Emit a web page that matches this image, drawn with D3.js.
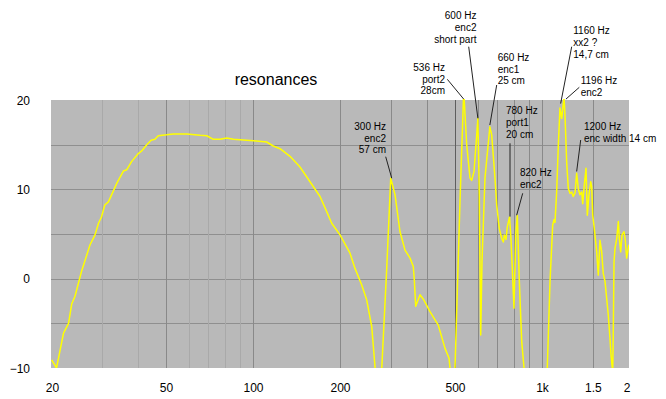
<!DOCTYPE html>
<html>
<head>
<meta charset="utf-8">
<script src="https://cdn.jsdelivr.net/npm/d3@7"></script>
<style>
  html, body { margin: 0; padding: 0; background: #fff; }
  svg { display: block; }
  text { font-family: "Liberation Sans", Arial, sans-serif; fill: #000; }
</style>
</head>
<body>
<svg id="chart" width="666" height="399"></svg>
<script>
// ---------- data ----------
const title = "resonances";
const freq = [20.1, 20.9, 22.1, 23.0, 23.6, 24.2, 25.5, 27.3, 28.4, 29.2, 29.9, 30.7, 31.6, 33.8, 35.6, 36.6, 38.0, 40.1, 41.2, 42.9, 44.4, 45.8, 47.0, 50.3, 53.0, 59.0, 65.6, 69.2, 72.9, 76.9, 81.1, 85.5, 95.1, 100.3, 111.5, 117.5, 124, 134.3, 145.4, 157.5, 170.6, 179.9, 187.2, 200, 216.6, 225.4, 237.8, 247.5, 257.6, 264.4, 267.5, 274, 279, 290.2, 299.6, 310, 322.6, 335.8, 349.5, 358.6, 361.6, 365.6, 378.4, 388.6, 409.7, 437.6, 461.8, 476.8, 480.4, 487, 496, 500, 520.4, 536, 548.8, 563.5, 571.1, 581.8, 594.4, 600, 606.8, 613.6, 619.9, 634.8, 660, 669.8, 687.6, 697, 711.6, 725.4, 734.8, 740.6, 750.6, 758.4, 772, 781, 800, 811, 821.4, 834.6, 850.8, 866.6, 900, 1020, 1043, 1066, 1089, 1100, 1109, 1124, 1139, 1154, 1170, 1192, 1201, 1217, 1233, 1250, 1267, 1283, 1301, 1318, 1335, 1353, 1372, 1383, 1401, 1420, 1435, 1454, 1474, 1486, 1498, 1517, 1546, 1566, 1587, 1609, 1629, 1652, 1674, 1696, 1719, 1733, 1747, 1757, 1765, 1775, 1789, 1814, 1837, 1851, 1872, 1892, 1922, 1942, 1963, 1989, 2000];
const db = [-9.1, -10.0, -6.1, -5.0, -2.8, -2.0, 0.8, 3.8, 4.9, 6.2, 6.9, 8.25, 8.6, 10.7, 12.05, 12.2, 13.1, 14.0, 14.3, 15.0, 15.5, 15.6, 16.0, 16.1, 16.2, 16.2, 16.05, 16.0, 15.6, 15.6, 15.75, 15.6, 15.5, 15.45, 15.3, 14.85, 14.55, 13.7, 12.5, 10.85, 9.2, 7.5, 6.2, 4.9, 2.85, 1.15, -0.7, -2.4, -5.4, -9.9, -13, -13, -10, 1.15, 11.25, 9.4, 5.25, 3.2, 2.3, 1.35, -0.15, -3.1, -1.8, -2.3, -3.7, -5.2, -7.8, -8.9, -10, -13, -13, -10, 8.8, 21, 15.0, 11.25, 11.0, 12.0, 16.1, 17.95, 9.4, -6.3, 1.9, 11.25, 17.0, 16.1, 11.25, 8.25, 5.6, 4.5, 4.1, 4.9, 4.4, 5.8, 6.9, 4.5, -3.3, 4.9, 7.1, -0.3, -7.05, -10, -14, -14, -10, -0.3, 6.0, 6.6, 6.3, 9.75, 15.0, 19.1, 17.95, 20.3, 18.3, 13.1, 10.1, 9.55, 9.7, 9.2, 9.6, 11.8, 10.1, 9.4, 9.7, 8.4, 10.5, 12.35, 7.1, 9.4, 10.85, 10.3, 7.1, 5.6, 3.0, 0.4, 4.3, 3.0, 0.6, -0.3, -2.2, -4.1, -6.7, -8.5, -9.7, -10.3, -5.55, 1.9, 3.4, 4.5, 6.4, 4.5, 3.0, 4.9, 5.25, 4.3, 2.3, 3.4, 3.8];

const yTicks = [20, 10, 0, -10];
const yGrid = [15, 10, 5, 0, -5];
const xTicks = [20, 50, 100, 200, 500, 1000, 1500, 2000];
const xTickLabels = ["20", "50", "100", "200", "500", "1k", "1.5", "2"];
const xGridLight = [30, 40, 60, 70, 80, 90];
const xGridMid = [50, 100, 200, 300, 400, 600, 700, 800, 900, 1000, 1500];
const xGridDark = [500];

// annotation texts and the point (freq, dB) each one points at
const annTexts = [
  ["600 Hz", "enc2", "short part"],
  ["536 Hz", "port2", "28cm"],
  ["660 Hz", "enc1", "25 cm"],
  ["1160 Hz", "xx2 ?", "14,7 cm"],
  ["1196 Hz", "enc2"],
  ["1200 Hz", "enc width 14 cm"],
  ["780 Hz", "port1", "20 cm"],
  ["820 Hz", "enc2"],
  ["300 Hz", "enc2", "57 cm"]
];
const annFreq = [600, 536, 660, 1160, 1210, 1318, 775, 817, 302];
const annDb   = [17.95, 20.1, 17.2, 19.6, 20.1, 12.0, 6.95, 7.1, 11.25];

// ---------- layout ----------
const annLayout = [
  {x: 476.5, y: 19,    anchor: "end",   lx: 468.7, ly: 46.7},
  {x: 445,   y: 70.7,  anchor: "end",   lx: 447.3, ly: 79.3},
  {x: 497.7, y: 60.7,  anchor: "start", lx: 496.7, ly: 85},
  {x: 573.3, y: 34,    anchor: "start", lx: 571.7, ly: 46.7},
  {x: 580.7, y: 84,    anchor: "start", lx: 579.3, ly: 87.3},
  {x: 584,   y: 129.7, anchor: "start", lx: 580.7, ly: 140},
  {x: 506,   y: 114,   anchor: "start", lx: 510,   ly: 143.3},
  {x: 520,   y: 175.7, anchor: "start", lx: 522.7, ly: 193.3},
  {x: 386,   y: 129.7, anchor: "end",   lx: 385.7, ly: 156.7}
];
const lineH = 11.8;
const plot = {left: 51, right: 629, top: 100, bottom: 368};

const svg = d3.select("#chart");
const x = d3.scaleLog().domain([20, 2000]).range([plot.left, plot.right]);
const y = d3.scaleLinear().domain([-10, 20]).range([plot.bottom, plot.top]);

// background
svg.append("rect")
  .attr("x", plot.left).attr("y", plot.top)
  .attr("width", plot.right - plot.left).attr("height", plot.bottom - plot.top)
  .attr("fill", "#b9b9b9");

// grid
const g = svg.append("g").attr("shape-rendering", "crispEdges");
g.selectAll(".hg").data(yGrid).join("line")
  .attr("x1", plot.left).attr("x2", plot.right)
  .attr("y1", d => Math.round(y(d)) + 0.5).attr("y2", d => Math.round(y(d)) + 0.5)
  .attr("stroke", "#8f8f8f");
function vgrid(vals, color) {
  g.append("g").selectAll("line").data(vals).join("line")
    .attr("x1", d => Math.round(x(d)) + 0.5).attr("x2", d => Math.round(x(d)) + 0.5)
    .attr("y1", plot.top).attr("y2", plot.bottom)
    .attr("stroke", color);
}
vgrid(xGridLight, "#a9a9a9");
vgrid(xGridMid, "#898989");
vgrid(xGridDark, "#5e5e5e");

// curve
svg.append("clipPath").attr("id", "clip").append("rect")
  .attr("x", plot.left).attr("y", plot.top - 1)
  .attr("width", plot.right - plot.left).attr("height", plot.bottom - plot.top + 1);
const pts = freq.map((f, i) => [f, db[i]]);
svg.append("path")
  .datum(pts)
  .attr("clip-path", "url(#clip)")
  .attr("fill", "none")
  .attr("stroke", "#ffff00")
  .attr("stroke-width", 1.5)
  .attr("stroke-linejoin", "round")
  .attr("d", d3.line().x(d => x(d[0])).y(d => y(d[1])));

// axes
const xAxis = svg.append("g")
  .attr("transform", `translate(0,${plot.bottom})`)
  .call(d3.axisBottom(x).tickValues(xTicks).tickFormat((d, i) => xTickLabels[i]).tickSize(0).tickPadding(0));
xAxis.select(".domain").remove();
xAxis.selectAll("text")
  .attr("y", 24).attr("dy", 0)
  .attr("font-size", 12)
  .attr("font-family", "Liberation Sans, Arial, sans-serif")
  .attr("fill", "#000")
  .attr("text-anchor", (d, i) => d === 2000 ? "end" : "middle")
  .attr("dx", d => d === 2000 ? 1 : (d === 20 ? 1 : 0));

const yAxis = svg.append("g")
  .attr("transform", `translate(${plot.left},0)`)
  .call(d3.axisLeft(y).tickValues(yTicks).tickFormat(d3.format("d")).tickSize(0).tickPadding(0));
yAxis.select(".domain").remove();
yAxis.selectAll("text")
  .attr("x", -21).attr("dy", "0.36em")
  .attr("font-size", 12)
  .attr("font-family", "Liberation Sans, Arial, sans-serif")
  .attr("fill", "#000");

// title
svg.append("text")
  .attr("x", 276).attr("y", 85)
  .attr("text-anchor", "middle")
  .attr("font-size", 16)
  .text(title);

// annotations
annTexts.forEach((lines, i) => {
  const L = annLayout[i];
  svg.append("line")
    .attr("x1", L.lx).attr("y1", L.ly)
    .attr("x2", x(annFreq[i])).attr("y2", y(annDb[i]))
    .attr("stroke", "#222").attr("stroke-width", 1);
  const t = svg.append("text")
    .attr("font-size", 10)
    .attr("text-anchor", L.anchor);
  lines.forEach((s, j) => {
    t.append("tspan").attr("x", L.x).attr("y", L.y + j * lineH).text(s);
  });
});
</script>
</body>
</html>
